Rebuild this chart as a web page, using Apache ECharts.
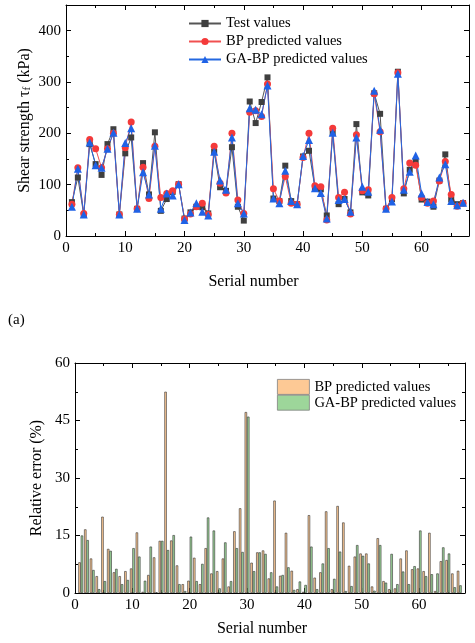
<!DOCTYPE html>
<html lang="en">
<head>
<meta charset="utf-8">
<title>Shear strength prediction</title>
<script src="https://cdn.jsdelivr.net/npm/echarts@6/dist/echarts.min.js"></script>
<style>
  html, body { margin: 0; padding: 0; background: #fff; }
  #chart { width: 475px; height: 643px; }
</style>
</head>
<body>
<div id="chart"></div>
<script type="text/javascript">
    // shear strength (kPa), samples 1..67
    let testValues = [66, 114, 41, 179, 140, 119, 179, 208, 42, 161,
                      192, 53, 142, 81, 202, 49, 72, 86, 101, 34,
                      46, 57, 56, 44, 164, 95, 88, 173, 57, 30,
                      262, 220, 261, 309, 73, 68, 137, 68, 62, 155,
                      166, 94, 91, 40, 201, 62, 72, 46, 218, 85,
                      79, 278, 238, 53, 72, 320, 83, 129, 146, 71,
                      67, 57, 108, 159, 71, 62, 64];
    let bpValues = [62, 133, 44, 188, 170, 133, 170, 200, 42, 172,
                    222, 53, 134, 73, 175, 75, 83, 88, 101, 33,
                    43, 57, 64, 42, 175, 103, 84, 200, 70, 44,
                    241, 244, 233, 296, 92, 68, 116, 64, 62, 153,
                    200, 98, 96, 31, 210, 75, 85, 43, 197, 88,
                    90, 277, 203, 53, 75, 318, 92, 142, 138, 75,
                    64, 68, 107, 145, 81, 58, 64];
    let gaValues = [57, 131, 42, 182, 138, 133, 170, 201, 42, 181,
                    210, 53, 124, 81, 176, 53, 83, 79, 101, 31,
                    46, 64, 47, 40, 164, 108, 90, 192, 64, 44,
                    249, 246, 237, 293, 73, 64, 127, 68, 62, 156,
                    187, 93, 84, 34, 201, 70, 72, 47, 192, 96,
                    86, 283, 207, 53, 67, 316, 90, 125, 157, 83,
                    66, 62, 114, 140, 68, 60, 65];

    // relative error (%)
    let bpError = [8.0, 16.6, 9.0, 4.4, 19.9, 11.5, 5.4, 4.4, 5.7, 6.4,
                   15.8, 0.3, 4.7, 9.3, 13.6, 52.5, 13.7, 7.2, 2.3, 3.2,
                   9.2, 2.3, 11.7, 5.1, 5.7, 9.0, 1.7, 16.1, 22.1, 47.2,
                   7.9, 10.6, 11.1, 3.8, 24.1, 4.5, 15.7, 5.8, 1.0, 0.3,
                   20.3, 4.0, 5.4, 21.3, 1.0, 22.7, 18.4, 7.1, 9.5, 10.3,
                   10.3, 1.7, 14.3, 3.1, 1.0, 1.2, 9.0, 11.1, 6.2, 6.4,
                   5.7, 15.7, 0.5, 8.3, 8.6, 5.1, 5.8];
    let gaError = [15.0, 13.8, 6.0, 1.0, 3.1, 11.0, 6.3, 2.3, 3.4, 11.7,
                   9.5, 3.2, 12.1, 0.2, 13.6, 11.2, 15.1, 2.3, 0.5, 14.7,
                   3.1, 7.6, 19.7, 16.3, 1.2, 13.2, 3.1, 11.7, 10.7, 46.0,
                   5.7, 10.6, 10.2, 5.4, 1.7, 4.7, 6.7, 0.8, 3.0, 2.1,
                   12.1, 1.0, 7.7, 11.7, 3.7, 10.8, 0.5, 1.8, 12.5, 9.7,
                   7.7, 0.6, 12.5, 2.7, 10.2, 2.3, 5.6, 2.3, 7.0, 16.3,
                   4.4, 4.9, 5.1, 11.9, 10.3, 1.5, 2.0];

    let serials = [];
    for (let i = 0; i < testValues.length; i++) {
        serials.push(i + 1);
    }

    function pairs(values) {
        return values.map((v, i) => [serials[i], v]);
    }

    let font = 'Liberation Serif';

    function frameAxis(gridIndex, position, range, showLabel) {
        return {
            gridIndex: gridIndex,
            type: 'value',
            position: position,
            min: range[0],
            max: range[1],
            interval: range[2],
            nameMoveOverlap: false,
            axisLine: { show: true, onZero: false, lineStyle: { color: '#000', width: 1 } },
            axisTick: { show: true, inside: true, length: 5, lineStyle: { color: '#000' } },
            minorTick: { show: true, splitNumber: 2, length: 3, lineStyle: { color: '#000' } },
            axisLabel: {
                show: showLabel,
                color: '#000',
                fontFamily: font,
                fontSize: 15,
                margin: 5,
                showMaxLabel: false
            },
            splitLine: { show: false }
        };
    }

    let xTop = frameAxis(0, 'bottom', [0, 68, 10], true);
    xTop.name = 'Serial number';
    xTop.nameLocation = 'middle';
    xTop.nameGap = 38;
    xTop.nameTextStyle = { color: '#000', fontFamily: font, fontSize: 16, padding: [0, 28, 0, 0] };

    let yTop = frameAxis(0, 'left', [0, 450, 100], true);
    yTop.name = '{a|Shear strength τ}{s|f}{a| (kPa)}';
    yTop.nameLocation = 'middle';
    yTop.nameGap = 33;
    yTop.nameTextStyle = {
        rich: {
            a: { color: '#000', fontFamily: font, fontSize: 16 },
            s: { color: '#000', fontFamily: font, fontSize: 11, verticalAlign: 'bottom', padding: [6, 0, 0, 0] }
        }
    };

    let xBottom = frameAxis(1, 'bottom', [0, 68, 10], true);
    xBottom.name = 'Serial number';
    xBottom.nameLocation = 'middle';
    xBottom.nameGap = 28;
    xBottom.nameTextStyle = { color: '#000', fontFamily: font, fontSize: 16, padding: [0, 16, 0, 0] };

    let yBottom = frameAxis(1, 'left', [0, 60, 15], true);
    yBottom.axisLabel.showMaxLabel = true;
    yBottom.name = 'Relative error (%)';
    yBottom.nameLocation = 'middle';
    yBottom.nameGap = 30;
    yBottom.nameTextStyle = { color: '#000', fontFamily: font, fontSize: 16 };

    let Chart = echarts.init(document.getElementById('chart'));

    let option = {
        animation: false,
        backgroundColor: '#fff',
        textStyle: { fontFamily: font },
        grid: [
            { left: 66, top: 5, width: 403, height: 231 },
            { left: 75, top: 363, width: 390, height: 230 }
        ],
        xAxis: [
            xTop,
            frameAxis(0, 'top', [0, 68, 10], false),
            xBottom,
            frameAxis(1, 'top', [0, 68, 10], false)
        ],
        yAxis: [
            yTop,
            frameAxis(0, 'right', [0, 450, 100], false),
            yBottom,
            frameAxis(1, 'right', [0, 60, 15], false)
        ],
        legend: [
            {
                data: ['Test values', 'BP predicted values', 'GA-BP predicted values'],
                orient: 'vertical',
                left: 183,
                top: 11,
                itemWidth: 32,
                itemHeight: 9,
                itemGap: 3,
                textStyle: { color: '#000', fontFamily: font, fontSize: 14.5 }
            },
            {
                data: ['BP predicted values (error)', 'GA-BP predicted values (error)'],
                orient: 'vertical',
                left: 272,
                top: 374,
                itemWidth: 32,
                itemHeight: 15,
                itemGap: 0,
                icon: 'rect',
                itemStyle: { borderColor: '#808080', borderWidth: 0.8 },
                formatter: (name) => name.replace(' (error)', ''),
                textStyle: { color: '#000', fontFamily: font, fontSize: 14.5 }
            }
        ],
        graphic: [
            {
                type: 'text',
                left: 8,
                top: 313,
                style: { text: '(a)', font: '15px Liberation Serif', fill: '#000' }
            }
        ],
        series: [
            {
                name: 'Test values',
                type: 'line',
                xAxisIndex: 0,
                yAxisIndex: 0,
                data: pairs(testValues),
                symbol: 'rect',
                symbolSize: 6,
                lineStyle: { color: '#555555', width: 1 },
                itemStyle: { color: '#3f3f3f' }
            },
            {
                name: 'BP predicted values',
                type: 'line',
                xAxisIndex: 0,
                yAxisIndex: 0,
                data: pairs(bpValues),
                symbol: 'circle',
                symbolSize: 7,
                lineStyle: { color: '#f05050', width: 1 },
                itemStyle: { color: '#f43a3a' }
            },
            {
                name: 'GA-BP predicted values',
                type: 'line',
                xAxisIndex: 0,
                yAxisIndex: 0,
                data: pairs(gaValues),
                symbol: 'triangle',
                symbolSize: 8,
                lineStyle: { color: '#2468e0', width: 1 },
                itemStyle: { color: '#1f62e6' }
            },
            {
                name: 'BP predicted values (error)',
                type: 'bar',
                xAxisIndex: 2,
                yAxisIndex: 2,
                data: pairs(bpError),
                barWidth: 2.4,
                barGap: '0%',
                itemStyle: { color: '#fdc995', borderColor: '#333', borderWidth: 0.6 }
            },
            {
                name: 'GA-BP predicted values (error)',
                type: 'bar',
                xAxisIndex: 2,
                yAxisIndex: 2,
                data: pairs(gaError),
                barWidth: 2.4,
                barGap: '0%',
                itemStyle: { color: '#9dd69a', borderColor: '#333', borderWidth: 0.6 }
            }
        ]
    };

    Chart.setOption(option);
</script>
</body>
</html>
